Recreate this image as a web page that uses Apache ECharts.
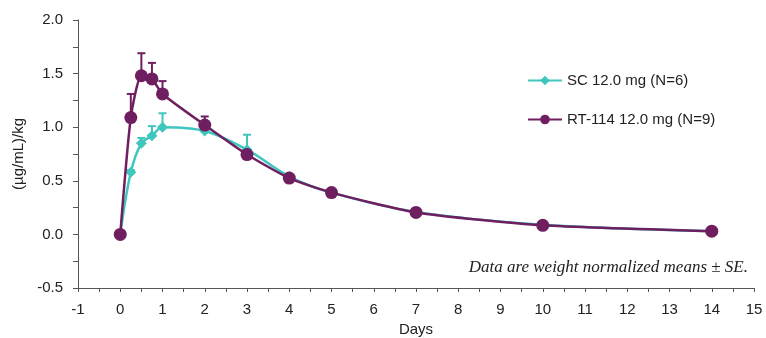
<!DOCTYPE html>
<html>
<head>
<meta charset="utf-8">
<script src="https://cdn.jsdelivr.net/npm/echarts@6/dist/echarts.min.js"></script>
<style>html,body{margin:0;padding:0;background:#fff;}#c{width:766px;height:338px;}</style>
</head>
<body>
<div id="c"></div>
<script>
const days = [0, 0.25, 0.5, 0.75, 1, 2, 3, 4, 5, 7, 10, 14];
const scMean = [0, 0.58, 0.85, 0.92, 1.00, 0.965, 0.79, 0.54, 0.39, 0.21, 0.09, 0.03];
const scSE   = [0, 0.02, 0.05, 0.09, 0.13, 0.04, 0.14, 0.02, 0.01, 0.01, 0.01, 0.01];
const rtMean = [0, 1.09, 1.48, 1.45, 1.31, 1.02, 0.745, 0.525, 0.39, 0.205, 0.085, 0.03];
const rtSE   = [0, 0.22, 0.21, 0.15, 0.12, 0.08, 0.02, 0.01, 0.01, 0.01, 0.01, 0.01];
const yTicks = [-0.5, 0.0, 0.5, 1.0, 1.5, 2.0];
const seriesNames = ['SC 12.0 mg (N=6)', 'RT-114 12.0 mg (N=9)'];

const teal = '#3fc6bd';
const purple = '#6f1e60';
const font = 'Liberation Sans, Arial, sans-serif';

function pairs(ys) { return days.map((d, i) => [d, ys[i]]); }
function errData(m, se) { return days.map((d, i) => [d, m[i], m[i] + se[i]]); }
function errSeries(m, se, color) {
  return {
    type: 'custom',
    data: errData(m, se),
    z: 1,
    silent: true,
    renderItem: function (params, api) {
      const p0 = api.coord([api.value(0), api.value(1)]);
      const p1 = api.coord([api.value(0), api.value(2)]);
      const w = 4;
      return {
        type: 'group',
        children: [
          { type: 'line', shape: { x1: p0[0], y1: p0[1], x2: p1[0], y2: p1[1] }, style: { stroke: color, lineWidth: 2 } },
          { type: 'line', shape: { x1: p1[0] - w, y1: p1[1], x2: p1[0] + w, y2: p1[1] }, style: { stroke: color, lineWidth: 2 } }
        ]
      };
    }
  };
}

const chart = echarts.init(document.getElementById('c'), null, { renderer: 'canvas' });
chart.setOption({
  animation: false,
  backgroundColor: '#fff',
  textStyle: { fontFamily: font },
  grid: { left: 78, right: 12, top: 20, bottom: 50, containLabel: false, outerBoundsMode: 'none' },
  legend: {
    orient: 'vertical',
    left: 522,
    top: 68,
    itemGap: 24,
    itemWidth: 34,
    itemHeight: 12,
    textStyle: { fontSize: 15, color: '#222', fontFamily: font },
    data: seriesNames
  },
  xAxis: {
    type: 'value',
    min: -1, max: 15, interval: 0.5,
    name: 'Days', nameLocation: 'middle', nameGap: 34,
    nameTextStyle: { fontSize: 15, color: '#222' },
    axisLine: { onZero: false, lineStyle: { color: '#555', width: 1 } },
    axisTick: { show: true, length: 4, inside: false, lineStyle: { color: '#555' } },
    axisLabel: {
      fontSize: 15, color: '#222', margin: 14,
      formatter: v => (Math.abs(v - Math.round(v)) < 1e-6 ? String(Math.round(v)) : '')
    },
    splitLine: { show: false }
  },
  yAxis: {
    type: 'value',
    min: -0.5, max: 2.0, interval: 0.25,
    name: '(µg/mL)/kg', nameLocation: 'middle', nameGap: 52,
    nameTextStyle: { fontSize: 15, color: '#222' },
    axisLine: { show: true, onZero: false, lineStyle: { color: '#555', width: 1 } },
    axisTick: { show: true, length: 5, lineStyle: { color: '#555' } },
    axisLabel: {
      fontSize: 15, color: '#222', margin: 15,
      formatter: v => {
        const t = yTicks.find(y => Math.abs(y - v) < 1e-6);
        return t === undefined ? '' : t.toFixed(1);
      }
    },
    splitLine: { show: false }
  },
  graphic: [{
    type: 'text',
    right: 18,
    top: 259,
    style: {
      text: 'Data are weight normalized means ± SE.',
      font: 'italic 17px "Liberation Serif", "Times New Roman", serif',
      fill: '#222'
    }
  }],
  series: [
    errSeries(scMean, scSE, teal),
    errSeries(rtMean, rtSE, purple),
    {
      name: seriesNames[0], type: 'line', data: pairs(scMean), smooth: 0.35,
      symbol: 'diamond', symbolSize: 11, z: 3,
      lineStyle: { color: teal, width: 2.5 },
      itemStyle: { color: teal }
    },
    {
      name: seriesNames[1], type: 'line', data: pairs(rtMean), smooth: 0.2,
      symbol: 'circle', symbolSize: 13, z: 4,
      lineStyle: { color: purple, width: 2.5 },
      itemStyle: { color: purple }
    }
  ]
});
</script>
</body>
</html>
